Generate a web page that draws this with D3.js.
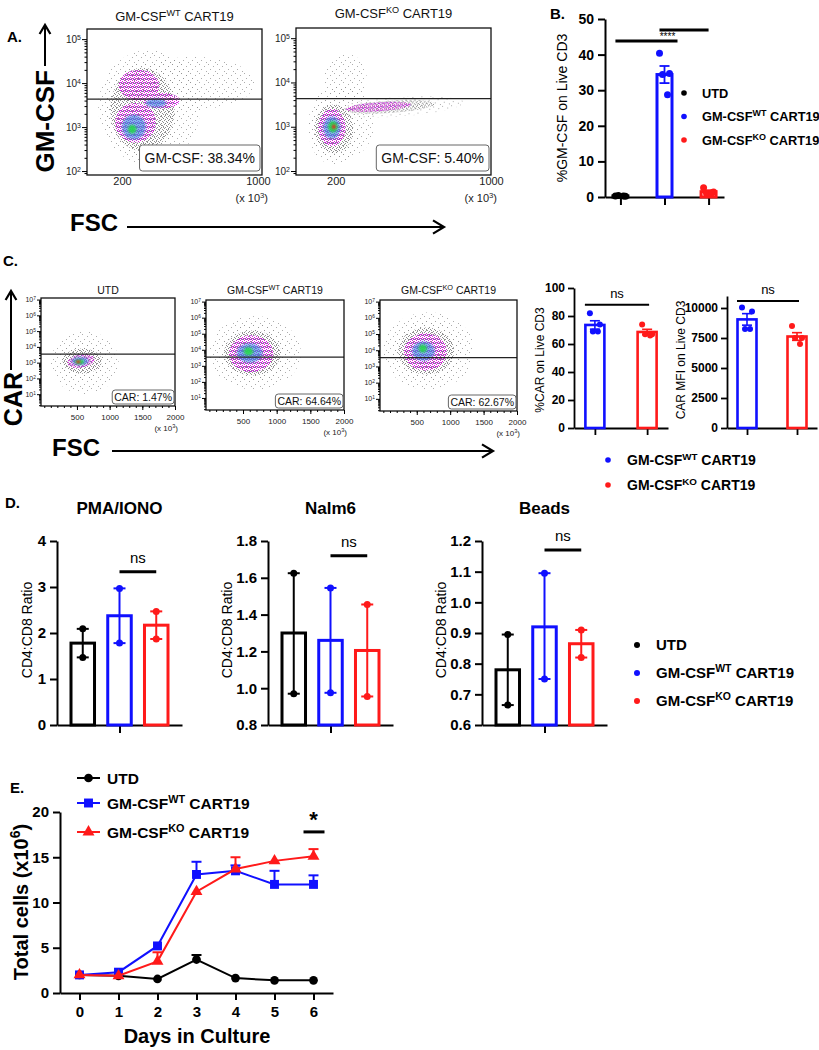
<!DOCTYPE html>
<html>
<head>
<meta charset="utf-8">
<script src="https://cdn.jsdelivr.net/npm/d3@7"></script>
<style>
  body { margin: 0; background: #fff; }
  svg { display: block; }
</style>
</head>
<body>
<svg id="fig" width="819" height="1050"></svg>
<script>
// ---------------- data ----------------
// panel A: flow plots (FSC x GM-CSF). density blobs: [fsc, log10 value, rx, ry (decades), level, angle]
const aTitleSup = ["WT", "KO"];
const aGateLabels = ["GM-CSF: 38.34%", "GM-CSF: 5.40%"];
const aGateValue = 4300;
const aXTicks = [200, 1000];
const aDecades = [2, 3, 4, 5];
const aBlobsWT = [
  [360, 3.45, 300, 1.3, 0], [620, 4.0, 360, 0.6, 0], [320, 3.4, 220, 1.05, 0],
  [320, 3.4, 190, 0.95, 1],
  [280, 3.1, 120, 0.45, 2], [300, 3.95, 120, 0.35, 2], [430, 3.6, 110, 0.18, 2],
  [270, 3.0, 70, 0.28, 3], [400, 3.55, 60, 0.1, 3],
  [260, 2.95, 25, 0.1, 4]
];
const aBlobsKO = [
  [190, 2.9, 130, 0.75, 0], [230, 3.1, 170, 0.85, 0], [520, 3.45, 340, 0.22, 0, -4], [250, 4.1, 110, 0.55, 0],
  [190, 2.95, 100, 0.55, 1], [480, 3.45, 230, 0.14, 1, -4],
  [180, 2.98, 70, 0.42, 2], [420, 3.45, 170, 0.1, 2, -4],
  [180, 2.98, 45, 0.25, 3],
  [185, 3.0, 25, 0.13, 4],
  [190, 3.0, 10, 0.05, 5]
];

// panel B
const bGroups = ["UTD", "GM-CSF WT CART19", "GM-CSF KO CART19"];
const bMeans = [0.3, 34.4, 1.5];
const bSem = [0.1, 2.4, 0.4];
const bPoints = [[0.3, 0.2, 0.4, 0.3], [40.4, 34.7, 34.4, 28.7], [2.6, 1.4, 1.0, 1.1]];
const bTicks = [0, 10, 20, 30, 40, 50];
const bSig = [[0, 1, 43.8], [1, 2, 46.9]];

// panel C: flow plots (FSC x CAR)
const cTitles = [[["UTD"]], [["GM-CSF"], ["WT", true], [" CART19"]], [["GM-CSF"], ["KO", true], [" CART19"]]];
const cGateLabels = ["CAR: 1.47%", "CAR: 64.64%", "CAR: 62.67%"];
const cGateValue = 3500;
const cXTicks = [500, 1000, 1500, 2000];
const cDecades = [1, 2, 3, 4, 5, 6, 7];
const cBlobsUTD = [
  [620, 3.0, 520, 2.0, 0], [600, 3.05, 380, 1.2, 0], [580, 3.1, 300, 0.8, 1], [560, 3.1, 210, 0.42, 2, -10],
  [550, 3.1, 130, 0.26, 3], [540, 3.05, 70, 0.15, 4], [520, 3.05, 35, 0.09, 5]
];
const cBlobsWT = [
  [680, 3.8, 680, 2.3, 0], [660, 3.8, 520, 1.8, 0], [640, 3.8, 420, 1.4, 1], [620, 3.75, 330, 1.15, 2],
  [600, 3.8, 190, 0.6, 3], [580, 3.9, 70, 0.25, 4]
];
const cBlobsKO = [
  [680, 3.95, 680, 2.4, 0], [660, 3.95, 520, 1.85, 0], [640, 3.95, 420, 1.45, 1], [630, 3.9, 320, 1.15, 2],
  [600, 3.95, 170, 0.6, 3], [590, 4.1, 60, 0.25, 4]
];

// panel C: bar charts
const cBarGroups = ["GM-CSF WT CART19", "GM-CSF KO CART19"];
const carPctMeans = [73.6, 68.6];
const carPctSem = [3.0, 1.9];
const carPctPoints = [[82, 74, 69, 69], [74, 67, 67, 66]];
const carPctTicks = [0, 20, 40, 60, 80, 100];
const carPctNs = 88;
const carMfiMeans = [9050, 7625];
const carMfiSem = [480, 320];
const carMfiPoints = [[10050, 9700, 8250, 8250], [8500, 7500, 7500, 7000]];
const carMfiTicks = [0, 2500, 5000, 7500, 10000];
const carMfiNs = 10580;

// panel D
const dTitles = ["PMA/IONO", "Nalm6", "Beads"];
const dSeries = ["UTD", "GM-CSF WT CART19", "GM-CSF KO CART19"];
const dMeans = [[1.78, 2.375, 2.17], [1.30, 1.26, 1.205], [0.78, 0.92, 0.865]];
const dPoints = [
  [[2.09, 1.47], [2.97, 1.78], [2.47, 1.87]],
  [[1.625, 0.97], [1.545, 0.975], [1.455, 0.955]],
  [[0.895, 0.665], [1.095, 0.75], [0.91, 0.82]]
];
const dYTicks = [[0, 1, 2, 3, 4], [0.8, 1.0, 1.2, 1.4, 1.6, 1.8], [0.6, 0.7, 0.8, 0.9, 1.0, 1.1, 1.2]];
const dNs = [3.33, 1.72, 1.171];

// panel E
const eDays = [0, 1, 2, 3, 4, 5, 6];
const eUTD = [2.0, 1.9, 1.55, 3.7, 1.65, 1.4, 1.4];
const eUTDErr = [0, 0, 0, 0.5, 0, 0, 0];
const eWT = [2.0, 2.3, 5.2, 13.1, 13.5, 12.0, 12.0];
const eWTErr = [0, 0, 0, 1.4, 0.6, 1.5, 1.0];
const eKO = [2.0, 1.9, 3.5, 11.2, 13.7, 14.6, 15.1];
const eKOErr = [0, 0, 1.0, 0, 1.3, 0, 0.8];
const eYTicks = [0, 5, 10, 15, 20];
const eSig = [6, 17.8];

// ---------------- setup ----------------
const FONT = "Liberation Sans, Arial, Helvetica, sans-serif";
const BLACK = "#000", BLUE = "#1010ff", RED = "#ff1a1a";
const COLORS = [BLACK, BLUE, RED];
const LEVEL_FILL = ["url(#speckSparse)", "url(#speckDense)", "url(#speckMag)", "#2f8be0", "#22dd44", "#ee2020"];
const LEVEL_OPACITY = [0.7, 0.85, 1, 0.6, 0.85, 0.95];
const JITTER = [-5, 5, -2, 3];

const svg = d3.select("#fig");
const defs = svg.append("defs");

function pattern(id, size, dots, color) {
  const p = defs.append("pattern").attr("id", id).attr("width", size).attr("height", size)
    .attr("patternUnits", "userSpaceOnUse");
  dots.forEach(d => p.append("rect").attr("x", d[0]).attr("y", d[1])
    .attr("width", 1).attr("height", 1).attr("fill", d[2] || color));
}
pattern("speckSparse", 9, [[1, 1], [6, 3], [3, 6], [8, 8]], "#8a8a8a");
pattern("speckDense", 4, [[0, 0], [2, 1], [1, 3], [3, 2]], "#7a7a7a");
pattern("speckMag", 4, [[0, 0], [2, 1], [1, 2], [3, 3], [2, 3, "#9050d0"], [0, 2, "#c040e0"]], "#e010e0");
defs.append("filter").attr("id", "soft").attr("x", "-50%").attr("y", "-50%")
  .attr("width", "200%").attr("height", "200%")
  .append("feGaussianBlur").attr("stdDeviation", 1.3);

function label(x, y, parts, o = {}) {
  const size = o.size || 12;
  const t = svg.append("text").attr("x", x).attr("y", y)
    .attr("font-family", FONT).attr("font-size", size)
    .attr("font-weight", o.bold ? "bold" : "normal")
    .attr("text-anchor", o.anchor || "start").attr("fill", o.color || "#000");
  if (o.rotate) t.attr("transform", `rotate(${o.rotate},${x},${y})`);
  (typeof parts === "string" ? [[parts]] : parts).forEach(p => {
    const s = t.append("tspan").text(p[0]);
    if (p[1]) s.attr("baseline-shift", "super").attr("font-size", size * 0.7);
  });
  return t;
}

function styleAxis(g, w, fs) {
  g.selectAll("path,line").attr("stroke", "#000").attr("stroke-width", w);
  g.selectAll("text").attr("font-family", FONT).attr("font-weight", "bold")
    .attr("font-size", fs).attr("fill", "#000");
}

function arrowHead(x, y, dir, s) {
  const pts = dir === "right" ? [[x - s, y - s * 0.6], [x, y], [x - s, y + s * 0.6]]
                              : [[x - s * 0.6, y + s], [x, y], [x + s * 0.6, y + s]];
  svg.append("polyline").attr("points", pts.map(p => p.join(",")).join(" "))
    .attr("fill", "none").attr("stroke", "#000").attr("stroke-width", 2.2);
}

let clipN = 0;
function flowPlot(o) {
  const x = d3.scaleLinear().domain(o.xDomain).range([o.left, o.right]);
  const y = d3.scaleLog().domain(o.yDomain).range([o.bottom, o.top]);
  const id = "clip" + (clipN++);
  defs.append("clipPath").attr("id", id).append("rect")
    .attr("x", o.left).attr("y", o.top).attr("width", o.right - o.left).attr("height", o.bottom - o.top);
  const cloud = svg.append("g").attr("clip-path", `url(#${id})`);
  cloud.selectAll("ellipse").data(o.blobs).join("ellipse")
    .attr("cx", d => x(d[0])).attr("cy", d => y(10 ** d[1]))
    .attr("rx", d => x(d[0] + d[2]) - x(d[0]))
    .attr("ry", d => y(10 ** d[1]) - y(10 ** (d[1] + d[3])))
    .attr("transform", d => `rotate(${d[5] || 0},${x(d[0])},${y(10 ** d[1])})`)
    .attr("fill", d => LEVEL_FILL[d[4]])
    .attr("opacity", d => LEVEL_OPACITY[d[4]])
    .attr("filter", d => d[4] >= 3 ? "url(#soft)" : null);

  svg.append("line").attr("x1", o.left).attr("x2", o.right)
    .attr("y1", y(o.gate)).attr("y2", y(o.gate)).attr("stroke", "#222").attr("stroke-width", 1.2);
  svg.append("rect").attr("x", o.left).attr("y", o.top)
    .attr("width", o.right - o.left).attr("height", o.bottom - o.top)
    .attr("fill", "none").attr("stroke", "#111").attr("stroke-width", 1.3);

  // y axis (log decades + minor ticks)
  const minor = [];
  const k0 = o.decades[0] - 1;
  for (let k = k0; k <= o.decades[o.decades.length - 1]; k++) {
    for (let m = 2; m < 10; m++) {
      const v = m * 10 ** k;
      if (v > o.yDomain[0] && v < o.yDomain[1]) minor.push(v);
    }
  }
  const ya = svg.append("g").attr("transform", `translate(${o.left},0)`)
    .call(d3.axisLeft(y).tickValues(o.decades.map(k => 10 ** k)).tickSize(o.tickLen).tickFormat(""));
  const ym = svg.append("g").attr("transform", `translate(${o.left},0)`)
    .call(d3.axisLeft(y).tickValues(minor).tickSize(o.tickLen * 0.5).tickFormat(""));
  [ya, ym].forEach(a => { a.select(".domain").remove(); a.selectAll("line").attr("stroke", "#000").attr("stroke-width", 1); });
  o.decades.forEach(k => label(o.left - o.tickLen - 1, y(10 ** k) + o.tickFont * 0.35,
    [["10"], [String(k), true]], { size: o.tickFont, anchor: "end", color: "#222" }));

  // x axis
  if (o.xMinor) {
    const xm = svg.append("g").attr("transform", `translate(0,${o.bottom})`)
      .call(d3.axisBottom(x).tickValues(o.xMinor).tickSize(2).tickFormat(""));
    xm.select(".domain").remove();
    xm.selectAll("line").attr("stroke", "#000");
  }
  const xa = svg.append("g").attr("transform", `translate(0,${o.bottom})`)
    .call(d3.axisBottom(x).tickValues(o.xTicks).tickSize(o.xTickLen).tickPadding(o.xPad).tickFormat(d3.format("d")));
  xa.select(".domain").remove();
  xa.selectAll("line").attr("stroke", "#000");
  xa.selectAll("text").attr("font-family", FONT).attr("font-size", o.tickFont + 1).attr("fill", "#222");
  label(o.right + o.multDx, o.bottom + o.multDy, [["(x 10"], ["3", true], [")"]],
    { size: o.tickFont + 1, anchor: "end", color: "#222" });

  // title
  label((o.left + o.right) / 2, o.titleY, o.title, { size: o.titleSize, anchor: "middle", color: "#111" });

  // gate percentage box
  const tb = label(o.right - o.box.right - o.box.padX, o.bottom - o.box.bottom, o.gateLabel,
    { size: o.box.font, anchor: "end", color: "#111" });
  const bb = tb.node().getBBox();
  svg.append("rect").attr("x", bb.x - o.box.padX).attr("y", bb.y - o.box.padY)
    .attr("width", bb.width + 2 * o.box.padX).attr("height", bb.height + 2 * o.box.padY)
    .attr("rx", 3).attr("fill", "#fff").attr("stroke", "#666").attr("stroke-width", 1);
  tb.raise();
}

// ---------------- panel A ----------------
label(7, 42, "A.", { size: 15, bold: true });
const aCommon = {
  yDomain: [10 ** 1.91, 10 ** 5.23], decades: aDecades, xTicks: aXTicks, gate: aGateValue,
  tickLen: 5, tickFont: 10, xTickLen: 0, xPad: 2, multDx: 6, multDy: 27, titleSize: 13,
  box: { font: 14, padX: 5, padY: 5, right: 2, bottom: 12 }
};
flowPlot(Object.assign({}, aCommon, {
  left: 87, right: 262, top: 29, bottom: 175, xDomain: [-6, 1024], blobs: aBlobsWT,
  title: [["GM-CSF"], [aTitleSup[0], true], [" CART19"]], titleY: 21, gateLabel: aGateLabels[0]
}));
flowPlot(Object.assign({}, aCommon, {
  left: 296, right: 491, top: 28, bottom: 175, xDomain: [-5, 1000], blobs: aBlobsKO,
  title: [["GM-CSF"], [aTitleSup[1], true], [" CART19"]], titleY: 18, gateLabel: aGateLabels[1]
}));
label(54, 70, "GM-CSF", { size: 26, bold: true, anchor: "end", rotate: -90 });
svg.append("line").attr("x1", 45).attr("x2", 45).attr("y1", 66).attr("y2", 26).attr("stroke", "#000").attr("stroke-width", 2);
arrowHead(45, 25, "up", 9);
label(70, 231, "FSC", { size: 24, bold: true });
svg.append("line").attr("x1", 127).attr("x2", 443).attr("y1", 227).attr("y2", 227).attr("stroke", "#000").attr("stroke-width", 2.2);
arrowHead(444, 227, "right", 11);

// ---------------- panel B ----------------
label(550, 19, "B.", { size: 15, bold: true });
{
  const y = d3.scaleLinear().domain([0, 50]).range([197, 19]);
  const x = d3.scalePoint().domain(bGroups).range([605, 724]).padding(0.35);
  const ax = svg.append("g").attr("transform", "translate(0,197)")
    .call(d3.axisBottom(x).tickSize(8).tickSizeOuter(0).tickFormat(""));
  styleAxis(ax, 2, 14);
  const ay = svg.append("g").attr("transform", "translate(605,0)")
    .call(d3.axisLeft(y).tickValues(bTicks).tickSize(7).tickSizeOuter(0).tickPadding(4));
  styleAxis(ay, 2, 14);
  const bw = 15;
  bGroups.forEach((grp, i) => {
    const cx = x(grp), c = COLORS[i];
    svg.append("rect").attr("x", cx - bw / 2).attr("y", y(bMeans[i]))
      .attr("width", bw).attr("height", y(0) - y(bMeans[i]))
      .attr("fill", "none").attr("stroke", c).attr("stroke-width", 3);
    svg.append("line").attr("x1", cx).attr("x2", cx).attr("y1", y(bMeans[i] - bSem[i])).attr("y2", y(bMeans[i] + bSem[i]))
      .attr("stroke", c).attr("stroke-width", 1.8);
    [bMeans[i] - bSem[i], bMeans[i] + bSem[i]].forEach(v => svg.append("line")
      .attr("x1", cx - 5).attr("x2", cx + 5).attr("y1", y(v)).attr("y2", y(v)).attr("stroke", c).attr("stroke-width", 1.8));
    svg.selectAll(null).data(bPoints[i]).join("circle")
      .attr("cx", (d, j) => cx + JITTER[j]).attr("cy", d => y(d)).attr("r", 3.5).attr("fill", c);
  });
  bSig.forEach(s => {
    svg.append("line").attr("x1", x(bGroups[s[0]]) - 5).attr("x2", x(bGroups[s[1]]) + (s[0] === 0 ? 13 : 0))
      .attr("y1", y(s[2])).attr("y2", y(s[2])).attr("stroke", "#000").attr("stroke-width", 3);
  });
  label(x(bGroups[1]) + 3, y(bSig[0][2]) - 1.5, "****", { size: 10, anchor: "middle" });
  label(567, 108, "%GM-CSF on Live CD3", { size: 14, anchor: "middle", rotate: -90 });
  const legend = [[["UTD"]], [["GM-CSF"], ["WT", true], [" CART19"]], [["GM-CSF"], ["KO", true], [" CART19"]]];
  legend.forEach((l, i) => {
    svg.append("circle").attr("cx", 684).attr("cy", 93 + i * 23.5).attr("r", 2.8).attr("fill", COLORS[i]);
    label(702, 97.5 + i * 23.5, l, { size: 12.8, bold: true });
  });
}

// ---------------- panel C ----------------
label(3, 266, "C.", { size: 15, bold: true });
const cCommon = {
  xDomain: [-50, 2000], yDomain: [10 ** 0.25, 10 ** 7.1], decades: cDecades, xTicks: cXTicks,
  xMinor: d3.range(0, 2001, 100), gate: cGateValue, tickLen: 4, tickFont: 7, xTickLen: 4, xPad: 4,
  multDx: 3, multDy: 25, titleSize: 10.5, titleY: 294,
  box: { font: 10.5, padX: 2, padY: 1, right: 1, bottom: 5 }
};
const cFrames = [[41, 175, 298, 406], [206, 344, 300, 410], [380, 517, 300, 411]];
const cBlobs = [cBlobsUTD, cBlobsWT, cBlobsKO];
cFrames.forEach((f, i) => flowPlot(Object.assign({}, cCommon, {
  left: f[0], right: f[1], top: f[2], bottom: f[3], blobs: cBlobs[i], title: cTitles[i], gateLabel: cGateLabels[i]
})));
label(22, 372, "CAR", { size: 25, bold: true, anchor: "end", rotate: -90 });
svg.append("line").attr("x1", 11).attr("x2", 11).attr("y1", 370).attr("y2", 292).attr("stroke", "#000").attr("stroke-width", 2);
arrowHead(11, 291, "up", 9);
label(52, 456, "FSC", { size: 24, bold: true });
svg.append("line").attr("x1", 112).attr("x2", 492).attr("y1", 451).attr("y2", 451).attr("stroke", "#000").attr("stroke-width", 2.2);
arrowHead(493, 451, "right", 11);

function twoBar(o) {
  const y = d3.scaleLinear().domain(o.yDomain).range([428, o.top]);
  const x = d3.scalePoint().domain(cBarGroups).range([o.left, o.right]).padding(0.4);
  const ax = svg.append("g").attr("transform", "translate(0,428)")
    .call(d3.axisBottom(x).tickSize(7).tickSizeOuter(0).tickFormat(""));
  styleAxis(ax, 1.8, 12);
  const ay = svg.append("g").attr("transform", `translate(${o.left},0)`)
    .call(d3.axisLeft(y).tickValues(o.ticks).tickSize(6).tickSizeOuter(0).tickPadding(3).tickFormat(d3.format("d")));
  styleAxis(ay, 1.8, 12);
  const bw = 19;
  cBarGroups.forEach((grp, i) => {
    const cx = x(grp), c = COLORS[i + 1], m = o.means[i], e = o.sem[i];
    svg.append("rect").attr("x", cx - bw / 2).attr("y", y(m)).attr("width", bw).attr("height", y(o.yDomain[0]) - y(m))
      .attr("fill", "none").attr("stroke", c).attr("stroke-width", 2.6);
    svg.append("line").attr("x1", cx).attr("x2", cx).attr("y1", y(m - e)).attr("y2", y(m + e)).attr("stroke", c).attr("stroke-width", 1.6);
    [m - e, m + e].forEach(v => svg.append("line").attr("x1", cx - 5).attr("x2", cx + 5)
      .attr("y1", y(v)).attr("y2", y(v)).attr("stroke", c).attr("stroke-width", 1.6));
    svg.selectAll(null).data(o.points[i]).join("circle")
      .attr("cx", (d, j) => cx + JITTER[j]).attr("cy", d => y(d)).attr("r", 3).attr("fill", c);
  });
  const ly = y(o.ns);
  svg.append("line").attr("x1", x(cBarGroups[0]) - 10).attr("x2", x(cBarGroups[1]) + 2)
    .attr("y1", ly).attr("y2", ly).attr("stroke", "#000").attr("stroke-width", 2);
  label((x(cBarGroups[0]) + x(cBarGroups[1])) / 2 - 4, ly - 7, "ns", { size: 13, anchor: "middle" });
  label(o.labelX, 360, o.label, { size: 12, anchor: "middle", rotate: -90 });
}
twoBar({ left: 574, right: 668, top: 288, yDomain: [0, 100], ticks: carPctTicks, means: carPctMeans,
  sem: carPctSem, points: carPctPoints, ns: carPctNs, label: "%CAR on Live CD3", labelX: 544 });
twoBar({ left: 727, right: 817, top: 296, yDomain: [0, 11000], ticks: carMfiTicks, means: carMfiMeans,
  sem: carMfiSem, points: carMfiPoints, ns: carMfiNs, label: "CAR MFI on Live CD3", labelX: 685 });
[[["GM-CSF"], ["WT", true], [" CART19"]], [["GM-CSF"], ["KO", true], [" CART19"]]].forEach((l, i) => {
  svg.append("circle").attr("cx", 608).attr("cy", 460 + i * 25).attr("r", 2.8).attr("fill", COLORS[i + 1]);
  label(627, 465 + i * 25, l, { size: 14, bold: true });
});

// ---------------- panel D ----------------
label(5, 508, "D.", { size: 15, bold: true });
const dAxisX = [57, 268, 482];
dTitles.forEach((title, p) => {
  const x0 = dAxisX[p], x1 = x0 + 125, top = 541, bottom = 725;
  const ticks = dYTicks[p];
  const y = d3.scaleLinear().domain([ticks[0], ticks[ticks.length - 1]]).range([bottom, top]);
  const xg = d3.scalePoint().domain([title]).range([x0, x1]).padding(0.5);
  const xb = d3.scaleBand().domain(dSeries).range([x0 + 14, x0 + 111]).paddingInner(0.36);
  const ax = svg.append("g").attr("transform", `translate(0,${bottom})`)
    .call(d3.axisBottom(xg).tickSize(8).tickSizeOuter(0).tickFormat(""));
  styleAxis(ax, 2, 14);
  const ay = svg.append("g").attr("transform", `translate(${x0},0)`)
    .call(d3.axisLeft(y).tickValues(ticks).tickSize(7).tickSizeOuter(0).tickPadding(4)
      .tickFormat(p === 0 ? d3.format("d") : d3.format(".1f")));
  styleAxis(ay, 2, 15);
  dSeries.forEach((s, i) => {
    const bx = xb(s), cx = bx + xb.bandwidth() / 2, c = COLORS[i], m = dMeans[p][i];
    const lo = d3.min(dPoints[p][i]), hi = d3.max(dPoints[p][i]);
    svg.append("rect").attr("x", bx).attr("y", y(m)).attr("width", xb.bandwidth()).attr("height", bottom - y(m))
      .attr("fill", "none").attr("stroke", c).attr("stroke-width", 3);
    svg.append("line").attr("x1", cx).attr("x2", cx).attr("y1", y(lo)).attr("y2", y(hi)).attr("stroke", c).attr("stroke-width", 2);
    [lo, hi].forEach(v => svg.append("line").attr("x1", cx - 6).attr("x2", cx + 6)
      .attr("y1", y(v)).attr("y2", y(v)).attr("stroke", c).attr("stroke-width", 2));
    svg.selectAll(null).data(dPoints[p][i]).join("circle")
      .attr("cx", cx).attr("cy", d => y(d)).attr("r", 3.5).attr("fill", c);
  });
  const ly = y(dNs[p]);
  const bx1 = xb(dSeries[1]) + xb.bandwidth() / 2, bx2 = xb(dSeries[2]) + xb.bandwidth() / 2;
  svg.append("line").attr("x1", bx1).attr("x2", bx2).attr("y1", ly).attr("y2", ly).attr("stroke", "#000").attr("stroke-width", 3);
  label((bx1 + bx2) / 2, ly - 9, "ns", { size: 15, anchor: "middle" });
  label((x0 + x1) / 2, 514, title, { size: 17, bold: true, anchor: "middle" });
  label(x0 - (p === 0 ? 25 : 36), 630, "CD4:CD8 Ratio", { size: 14, anchor: "middle", rotate: -90 });
});
[[["UTD"]], [["GM-CSF"], ["WT", true], [" CART19"]], [["GM-CSF"], ["KO", true], [" CART19"]]].forEach((l, i) => {
  svg.append("circle").attr("cx", 637).attr("cy", 645 + i * 28).attr("r", 3).attr("fill", COLORS[i]);
  label(656, 650 + i * 28, l, { size: 15, bold: true });
});

// ---------------- panel E ----------------
label(10, 793, "E.", { size: 15, bold: true });
{
  const x = d3.scaleLinear().domain([-0.5, 6.5]).range([60, 333]);
  const y = d3.scaleLinear().domain([0, 20]).range([993, 812]);
  const ax = svg.append("g").attr("transform", "translate(0,993)")
    .call(d3.axisBottom(x).tickValues(eDays).tickSize(7).tickSizeOuter(0).tickPadding(6).tickFormat(d3.format("d")));
  styleAxis(ax, 2, 15);
  const ay = svg.append("g").attr("transform", "translate(60,0)")
    .call(d3.axisLeft(y).tickValues(eYTicks).tickSize(7).tickSizeOuter(0).tickPadding(4));
  styleAxis(ay, 2, 15);

  const series = [
    { v: eUTD, err: eUTDErr, c: BLACK, sym: d3.symbolCircle, size: 60 },
    { v: eWT, err: eWTErr, c: BLUE, sym: d3.symbolSquare, size: 80 },
    { v: eKO, err: eKOErr, c: RED, sym: d3.symbolTriangle, size: 62 }
  ];
  const line = d3.line().x((d, i) => x(eDays[i])).y(d => y(d));
  series.forEach(s => {
    s.err.forEach((e, i) => {
      if (!e) return;
      const cx = x(eDays[i]);
      svg.append("line").attr("x1", cx).attr("x2", cx).attr("y1", y(s.v[i])).attr("y2", y(s.v[i] + e)).attr("stroke", s.c).attr("stroke-width", 2);
      svg.append("line").attr("x1", cx - 5).attr("x2", cx + 5).attr("y1", y(s.v[i] + e)).attr("y2", y(s.v[i] + e)).attr("stroke", s.c).attr("stroke-width", 2);
    });
    svg.append("path").datum(s.v).attr("d", line).attr("fill", "none").attr("stroke", s.c).attr("stroke-width", 2);
    svg.selectAll(null).data(s.v).join("path")
      .attr("transform", (d, i) => `translate(${x(eDays[i])},${y(d)})`)
      .attr("d", d3.symbol(s.sym, s.size)).attr("fill", s.c);
  });
  const sx = x(eSig[0]), sy = y(eSig[1]);
  svg.append("line").attr("x1", sx - 10).attr("x2", sx + 11).attr("y1", sy).attr("y2", sy).attr("stroke", "#000").attr("stroke-width", 3);
  label(sx, sy - 5, "*", { size: 22, bold: true, anchor: "middle" });

  const leg = [[["UTD"]], [["GM-CSF"], ["WT", true], [" CART19"]], [["GM-CSF"], ["KO", true], [" CART19"]]];
  const legY = [778, 803, 832];
  leg.forEach((l, i) => {
    const s = series[i];
    svg.append("line").attr("x1", 77).attr("x2", 100).attr("y1", legY[i]).attr("y2", legY[i]).attr("stroke", s.c).attr("stroke-width", 2);
    svg.append("path").attr("transform", `translate(88.5,${legY[i]})`).attr("d", d3.symbol(s.sym, s.size)).attr("fill", s.c);
    label(107, legY[i] + 5.5, l, { size: 15.5, bold: true });
  });
  label(28, 902, [["Total cells (x10"], ["6", true], [")"]], { size: 20, bold: true, anchor: "middle", rotate: -90 });
  label(197, 1043, "Days in Culture", { size: 20, bold: true, anchor: "middle" });
}
</script>
</body>
</html>
